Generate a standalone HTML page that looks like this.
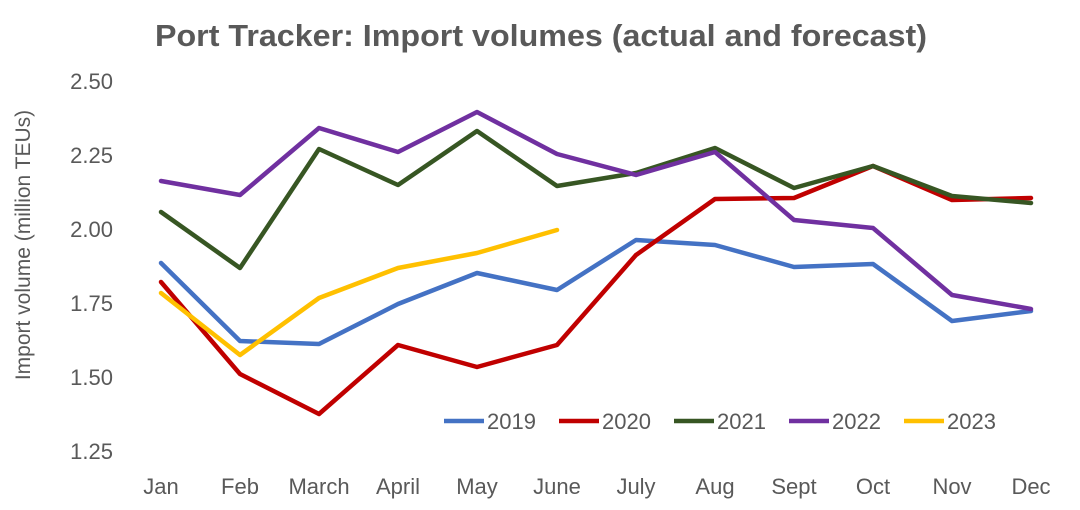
<!DOCTYPE html>
<html><head><meta charset="utf-8"><style>
html,body{margin:0;padding:0;background:#fff;}
svg{display:block;font-family:"Liberation Sans",sans-serif;}
</style></head><body>
<svg width="1080" height="510" viewBox="0 0 1080 510">
<rect width="1080" height="510" fill="#fff"/>
<text x="155" y="46" textLength="772" lengthAdjust="spacingAndGlyphs" font-size="31" font-weight="bold" fill="#595959">Port Tracker: Import volumes (actual and forecast)</text>
<g font-size="22" fill="#595959" text-anchor="end">
<text x="113" y="89">2.50</text><text x="113" y="163">2.25</text><text x="113" y="237">2.00</text>
<text x="113" y="311">1.75</text><text x="113" y="385">1.50</text><text x="113" y="459">1.25</text>
</g>
<text transform="translate(30,245) rotate(-90)" text-anchor="middle" font-size="21" fill="#595959">Import volume (million TEUs)</text>
<g font-size="22" fill="#595959" text-anchor="middle">
<text x="161" y="494">Jan</text><text x="240" y="494">Feb</text><text x="319" y="494">March</text><text x="398" y="494">April</text>
<text x="477" y="494">May</text><text x="557" y="494">June</text><text x="636" y="494">July</text><text x="715" y="494">Aug</text>
<text x="794" y="494">Sept</text><text x="873" y="494">Oct</text><text x="952" y="494">Nov</text><text x="1031" y="494">Dec</text>
</g>
<g fill="none" stroke-width="4.5" stroke-linejoin="round" stroke-linecap="round">
<polyline stroke="#4472C4" points="161,263 240,341 319,344 398,304 477,273 557,290 636,240 715,245 794,267 873,264 952,321 1031,311"/>
<polyline stroke="#C00000" points="161,282 240,374 319,414 398,345 477,367 557,345 636,255 715,199 794,198 873,166 952,200 1031,198"/>
<polyline stroke="#375623" points="161,212 240,268 319,149 398,185 477,131 557,186 636,173 715,148 794,188 873,166 952,196 1031,203"/>
<polyline stroke="#7030A0" points="161,181 240,195 319,128 398,152 477,112 557,154 636,175 715,152 794,220 873,228 952,295 1031,309"/>
<polyline stroke="#FFC000" points="161,293 240,355 319,298 398,268 477,253 557,230"/>
</g>
<g stroke-width="4.5">
<line x1="444" y1="421" x2="484" y2="421" stroke="#4472C4"/>
<line x1="559" y1="421" x2="599" y2="421" stroke="#C00000"/>
<line x1="674" y1="421" x2="714" y2="421" stroke="#375623"/>
<line x1="789" y1="421" x2="829" y2="421" stroke="#7030A0"/>
<line x1="904" y1="421" x2="944" y2="421" stroke="#FFC000"/>
</g>
<g font-size="22" fill="#595959">
<text x="487" y="429">2019</text><text x="602" y="429">2020</text><text x="717" y="429">2021</text>
<text x="832" y="429">2022</text><text x="947" y="429">2023</text>
</g>
</svg>
</body></html>
